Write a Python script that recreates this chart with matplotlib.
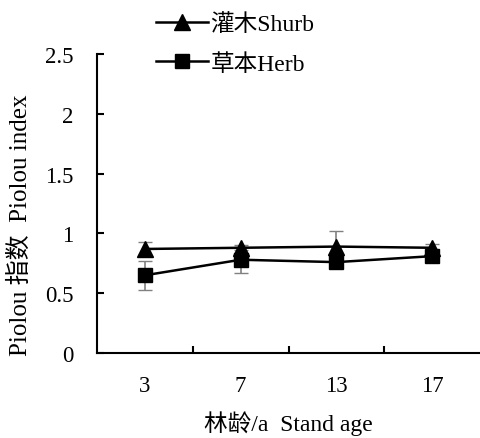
import numpy as np
import matplotlib.pyplot as plt

plt.rcParams['font.family'] = ['Liberation Serif', 'Noto Sans CJK SC']

ages = ['3', '7', '13', '17']
shrub = [0.87, 0.88, 0.89, 0.88]
shrub_err = [0.06, 0.02, 0.13, 0.03]
herb = [0.65, 0.78, 0.76, 0.81]
herb_err = [0.12, 0.11, 0.03, 0.03]

fig = plt.figure(figsize=(4.81, 4.39), dpi=100)
ax = fig.add_axes([0.2017, 0.1936, 0.7963, 0.681])

x = np.arange(len(ages)) + 0.5
ax.errorbar(x, shrub, yerr=shrub_err, fmt='none', ecolor='#808080', elinewidth=1.2, capsize=5, zorder=1)
ax.errorbar(x, herb, yerr=herb_err, fmt='none', ecolor='#808080', elinewidth=1.2, capsize=5, zorder=1)
l1, = ax.plot(x, shrub, color='black', lw=1.8, marker='^', markersize=11, label='灌木Shurb', zorder=3)
l2, = ax.plot(x, herb, color='black', lw=1.8, marker='s', markersize=10, label='草本Herb', zorder=3)

ax.set_xlim(0, 4)
ax.set_ylim(0, 2.5)
ax.set_xticks(x)
ax.set_xticklabels(ages)
ax.set_xticks([1, 2, 3], minor=True)
ax.set_yticks([0, 0.5, 1, 1.5, 2, 2.5])
ax.set_yticklabels(['0', '0.5', '1', '1.5', '2', '2.5'])
ax.tick_params(axis='x', which='major', length=0, labelsize=16.5, pad=16)
ax.tick_params(axis='x', which='minor', direction='in', length=5, width=1.5)
ax.tick_params(axis='y', direction='in', length=5, width=1.5, labelsize=16.5, pad=17)
for s in ['top', 'right']:
    ax.spines[s].set_visible(False)
for s in ['left', 'bottom']:
    ax.spines[s].set_linewidth(1.5)

ax.set_xlabel('林龄/a  Stand age', fontsize=17, labelpad=10)
ax.set_ylabel('Piolou 指数  Piolou index', fontsize=18)
ax.yaxis.set_label_coords(-0.17, 0.43)

fig.legend(handles=[l1, l2], loc='upper left', bbox_to_anchor=(142 / 481, 1.0),
           frameon=False, fontsize=17, handlelength=2.2, handletextpad=0.1,
           labelspacing=0.75, borderpad=0.1)

fig.savefig('out.png', dpi=100)
